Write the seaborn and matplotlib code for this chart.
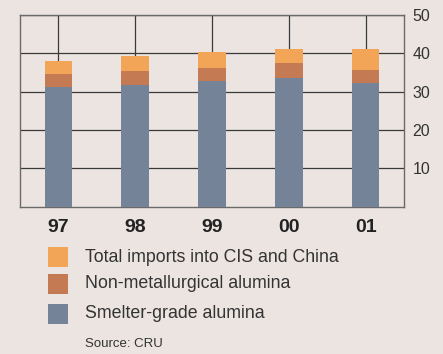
import matplotlib
matplotlib.use("Agg")
import matplotlib.pyplot as plt
import seaborn as sns
import pandas as pd
from matplotlib.patches import Rectangle

years = ["97", "98", "99", "00", "01"]
smelter = [31.2, 31.7, 32.7, 33.5, 32.2]
non_met = [3.3, 3.6, 3.4, 3.9, 3.4]
imports = [3.4, 3.9, 4.2, 3.7, 5.5]
y_ticks = [10, 20, 30, 40, 50]
legend_labels = ["Total imports into CIS and China", "Non-metallurgical alumina", "Smelter-grade alumina"]
source_text = "Source: CRU"

bg = "#ebe4e1"
c_smelter = "#748398"
c_nonmet = "#c47a52"
c_imports = "#f2a457"
txt = "#333333"

sns.set_theme(style="white")
plt.rcParams["font.family"] = ["Liberation Sans", "DejaVu Sans"]

df = pd.DataFrame({"year": years, "smelter": smelter, "non_met": non_met, "imports": imports})
df["lvl2"] = df["smelter"] + df["non_met"]
df["lvl3"] = df["lvl2"] + df["imports"]

fig = plt.figure(figsize=(4.43, 3.54), dpi=100, facecolor=bg)
ax = fig.add_axes([20/443, 1-206.7/354, 384/443, 192/354])
ax.set_facecolor(bg)

w = 0.36
for col, colr in [("lvl3", c_imports), ("lvl2", c_nonmet), ("smelter", c_smelter)]:
    sns.barplot(data=df, x="year", y=col, color=colr, width=w, saturation=1,
                linewidth=0, edgecolor="none", ax=ax, zorder=3)

ax.set_xlim(-0.5, 4.5)
ax.set_ylim(0, 50)
ax.set_yticks(y_ticks)
ax.set_yticklabels([str(t) for t in y_ticks])
ax.yaxis.tick_right()
ax.set_xlabel("")
ax.set_ylabel("")
ax.grid(True, axis="both", color="#3a3a3a", linewidth=0.9, zorder=1)
ax.set_axisbelow(True)
ax.tick_params(axis="y", length=0, pad=6, labelsize=11.5, labelcolor=txt)
ax.tick_params(axis="x", length=0, pad=9, labelsize=14, labelcolor="#222222")
for lbl in ax.get_xticklabels():
    lbl.set_fontweight("bold")
for s in ax.spines.values():
    s.set_visible(True)
    s.set_color("#6a6a6a")
    s.set_linewidth(1.0)

# legend
rows_y = [257, 284, 314]
cols = [c_imports, c_nonmet, c_smelter]
for yc, col, lab in zip(rows_y, cols, legend_labels):
    fig.patches.append(Rectangle((48/443, 1-(yc+10)/354), 20/443, 20/354,
                                 transform=fig.transFigure, facecolor=col, edgecolor="none"))
    fig.text(85/443, 1-yc/354, lab, ha="left", va="center", fontsize=12.8, color=txt)
fig.text(85/443, 1-344/354, source_text, ha="left", va="center", fontsize=9.5, color=txt)

fig.savefig("out.png", dpi=100, facecolor=bg)
